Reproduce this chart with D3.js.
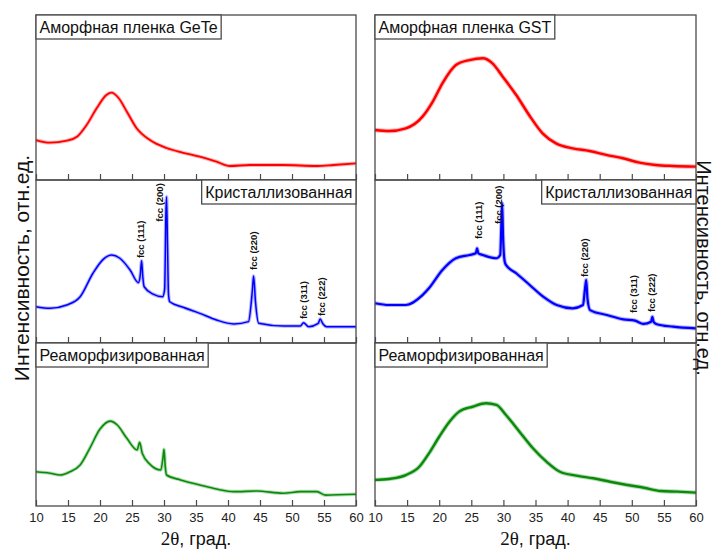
<!DOCTYPE html>
<html>
<head>
<meta charset="utf-8">
<script src="https://cdn.jsdelivr.net/npm/d3@7"></script>
<style>
  body { margin: 0; background: #fff; }
  svg { font-family: "Liberation Sans", Arial, sans-serif; }
</style>
</head>
<body>
<div id="chart"></div>
<script>
// XRD patterns, 2theta (deg) vs intensity (arb. units, 0..100 per panel)

var geteAmorph = [[10,24.2],[12.2,22.6],[14.8,23.8],[16.4,26.2],[17.9,33.3],[19.5,43.6],[21,51.5],[21.8,52.9],
  [22.9,49.7],[24.2,41.4],[25.7,31.5],[27.8,24.2],[30.4,19.4],[33,16.5],[35.6,14.1],[38.2,11.1],[40.3,8.5],
  [43.4,9.1],[48.6,9.1],[53.9,8.5],[56.5,9.1],[60,10.1]];

var geteCryst = [[10,22.3],[12.2,21.3],[14.8,23.3],[16.9,28.4],[18.9,42.8],[20.5,51.3],[21.8,54],[23.1,52],
  [24.7,44.8],[26,37],[26.3,42],[26.5,50.5],[26.7,40],[26.9,34.5],[28.3,30],[29.8,28.4],[30.1,33],[30.3,80],
  [30.4,89.8],[30.55,60],[30.7,30],[30.9,25.3],[33,21.9],[35.6,18.2],[38.2,14.1],[40.9,11.7],[43.2,13.1],
  [43.8,32],[44,41.1],[44.3,25],[44.8,12.1],[48.7,10.4],[51.3,10.4],[51.8,12.5],[52.6,10],[54.1,12],
  [54.4,14.7],[54.8,12],[55.4,10],[60,10]];

var geteReamorph = [[10,21],[12.2,20.1],[13.75,19],[15.3,21],[16.9,25.2],[18.4,35.4],[20,47.2],[21.6,52.1],
  [22.7,49.7],[24.2,41.5],[25.8,34.4],[26.2,39.1],[26.6,32.3],[27.9,25.2],[29.5,22.1],[29.85,30],[30,34.8],
  [30.2,24],[30.4,19],[32.6,16],[35.6,12.9],[38.2,10.4],[40.9,8.8],[44.5,9.2],[48.6,7.8],[51.3,8.8],
  [53.9,8.8],[55.2,6.7],[60,7.2]];

var gstAmorph = [[10,30.3],[12.2,29.7],[14.8,31.3],[17.4,38.4],[19,47.5],[20.5,58.6],[22.6,69.7],[24.7,72.7],
  [26.8,73.8],[28.3,70.7],[29.9,62.6],[32,51.5],[34,39.4],[36.1,28.3],[38.2,22.2],[40.8,19.2],[43.4,17.6],
  [46,15.2],[48.6,13.2],[51.2,10.5],[53.7,9.1],[56.4,8.5],[60,8.1]];

var gstCryst = [[10,24.4],[12.2,23.3],[14.8,23.3],[17.4,29.4],[18.4,33.6],[20.5,44.8],[22.6,52],[24.7,54],
  [25.7,55],[25.9,58.1],[26.1,55],[26.8,54],[28.9,52],[29.5,54],[29.7,75],[29.8,85.7],[29.95,65],[30.2,50],
  [30.4,47.9],[32,42.8],[34.1,35.6],[36.2,28.4],[38.3,23.3],[40.8,21.3],[42.4,23.3],[42.7,33],[42.9,38.7],
  [43.1,27],[43.5,20.2],[46.1,17.2],[48.7,14.5],[50.5,13.7],[51.8,11.7],[53,13],[53.2,16.1],[53.4,13],
  [53.8,11.7],[56.4,10],[60,9]];

var gstReamorph = [[10,16],[12.2,16.6],[14.8,19],[16.9,24.1],[18.4,32.3],[20,42.5],[21.6,51.7],[23.1,57.9],
  [25.2,60.9],[27.3,63],[28.9,62],[30.4,55.8],[32.5,45.6],[34.6,35.4],[36.7,27.2],[38.8,21],[41.4,18.6],
  [44,17],[46.6,14.9],[49.3,12.9],[51.9,11.2],[54.5,9.2],[57.1,8.8],[60,8.2]];

// peak labels: [text, 2theta, intensity at foot of label]
var geteCrystPeaks = [["fcc (111)",26.4,52.1],["fcc (200)",29.3,74.4],["fcc (220)",43.95,44.8],
  ["fcc (311)",51.9,14.7],["fcc (222)",54.6,16.6]];
var gstCrystPeaks = [["fcc (111)",26.1,63.8],["fcc (200)",29.2,73],["fcc (220)",42.66,40.5],
  ["fcc (311)",50.3,18.4],["fcc (222)",53.1,19]];

var panelTitles = ["Аморфная пленка GeTe","Кристаллизованная","Реаморфизированная",
  "Аморфная пленка GST","Кристаллизованная","Реаморфизированная"];
var xTicks = [10,15,20,25,30,35,40,45,50,55,60];
var yLabel = "Интенсивность, отн.ед.";

var W = 716, H = 549;
var cols = [{x0:36,x1:356},{x0:375,x1:696}];
var rows = [{y0:15,y1:180},{y0:180,y1:343},{y0:343,y1:506}];
var frameColor = "#4a4a4a";

var svg = d3.select("#chart").append("svg").attr("width",W).attr("height",H);

var panels = [
  {col:0,row:0,data:geteAmorph,color:"#ff0000",w:1.8,title:panelTitles[0],titleRight:false},
  {col:0,row:1,data:geteCryst,color:"#0000ff",w:1.5,title:panelTitles[1],titleRight:true,peaks:geteCrystPeaks},
  {col:0,row:2,data:geteReamorph,color:"#0a8a0a",w:1.6,title:panelTitles[2],titleRight:false},
  {col:1,row:0,data:gstAmorph,color:"#ff0000",w:2.4,title:panelTitles[3],titleRight:false},
  {col:1,row:1,data:gstCryst,color:"#0000ff",w:2.2,title:panelTitles[4],titleRight:true,peaks:gstCrystPeaks},
  {col:1,row:2,data:gstReamorph,color:"#0a8a0a",w:2.4,title:panelTitles[5],titleRight:false}
];

panels.forEach(function(p){
  var c = cols[p.col], r = rows[p.row];
  var x = d3.scaleLinear().domain([10,60]).range([c.x0,c.x1]);
  var y = d3.scaleLinear().domain([0,100]).range([r.y1,r.y0]);
  var g = svg.append("g");

  var line = d3.line().x(function(d){return x(d[0]);}).y(function(d){return y(d[1]);})
    .curve(d3.curveMonotoneX);

  // faint wide band first, then the core trace
  g.append("path").datum(p.data).attr("d",line).attr("fill","none")
    .attr("stroke",p.color).attr("stroke-width",p.w+2).attr("stroke-opacity",0.3)
    .attr("stroke-linejoin","round");
  g.append("path").datum(p.data).attr("d",line).attr("fill","none")
    .attr("stroke",p.color).attr("stroke-width",p.w).attr("stroke-linejoin","round");

  // inward ticks at the bottom of each panel
  var axis = d3.axisBottom(x).tickValues(xTicks).tickSizeInner(-6).tickSizeOuter(0).tickPadding(7);
  if(p.row != 2) axis.tickFormat("");
  var ax = g.append("g").attr("transform","translate(0,"+r.y1+")").call(axis);
  ax.select(".domain").remove();
  ax.selectAll("line").attr("stroke",frameColor).attr("stroke-width",1.2);
  ax.selectAll("text").attr("fill","#222").style("font-size","13px")
    .style("font-family","'Liberation Sans', Arial, sans-serif");

  // frame
  g.append("rect").attr("x",c.x0).attr("y",r.y0).attr("width",c.x1-c.x0).attr("height",r.y1-r.y0)
    .attr("fill","none").attr("stroke",frameColor).attr("stroke-width",1.3);

  // title box
  var tb = g.append("g");
  var t = tb.append("text").text(p.title).style("font-size","16px").attr("fill","#111");
  var tw = t.node().getComputedTextLength();
  var bw = tw + 7, bh = 24;
  var bx = p.titleRight ? c.x1 - bw : c.x0;
  tb.insert("rect","text").attr("x",bx).attr("y",r.y0).attr("width",bw).attr("height",bh)
    .attr("fill","#fff").attr("stroke",frameColor).attr("stroke-width",1.3);
  t.attr("x",bx+3.5).attr("y",r.y0+18);

  // peak labels
  if(p.peaks){
    g.selectAll(".peak").data(p.peaks).enter().append("text")
      .attr("class","peak")
      .attr("transform",function(d){return "translate("+x(d[1])+","+y(d[2])+") rotate(-90)";})
      .attr("dy","0.35em")
      .style("font-size","9.5px").style("font-weight","bold").attr("fill","#111")
      .text(function(d){return d[0];});
  }
});

// axis titles
[0,1].forEach(function(i){
  var c = cols[i];
  var xl = svg.append("text").attr("x",(c.x0+c.x1)/2).attr("y",545).attr("text-anchor","middle")
    .style("font-size","18px").attr("fill","#111");
  xl.append("tspan").style("font-family","'Liberation Serif','Times New Roman',serif").style("font-size","19px").text("2θ");
  xl.append("tspan").text(", град.");
});

svg.append("text").attr("transform","translate(29,268) rotate(-90)").attr("text-anchor","middle")
  .style("font-size","21px").attr("fill","#111").text(yLabel);
svg.append("text").attr("transform","translate(697,268) rotate(90)").attr("text-anchor","middle")
  .style("font-size","20px").attr("fill","#111").text(yLabel);
</script>
</body>
</html>
